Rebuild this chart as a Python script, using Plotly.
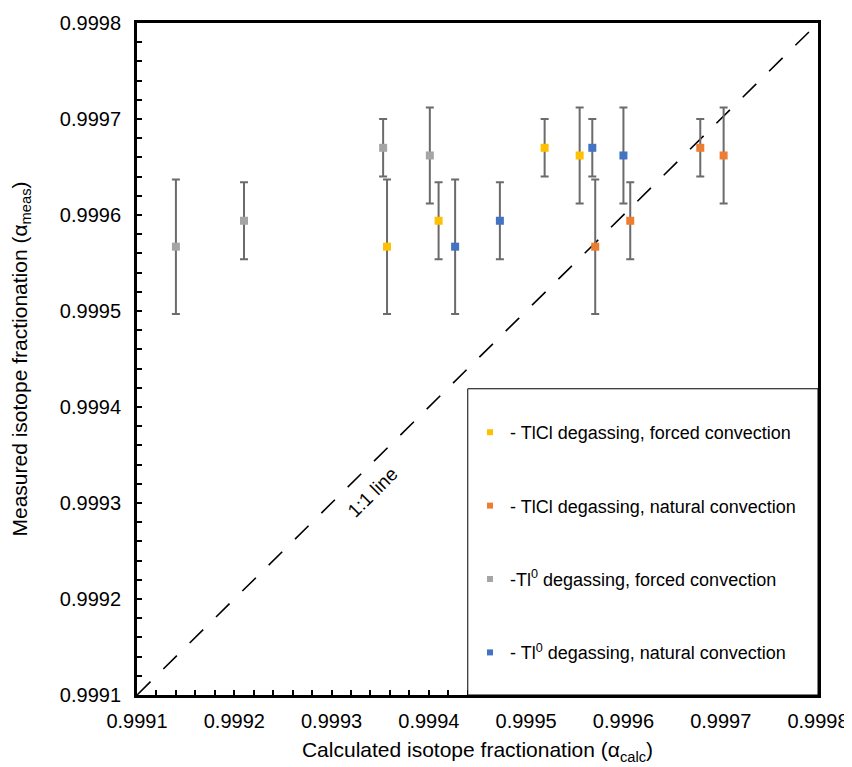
import plotly.graph_objects as go

# ---- data ----
y_meas = [0.999567, 0.999594, 0.99967, 0.999662]
y_err = [0.00007, 0.00004, 0.00003, 0.00005]

x_tlcl_forced = [0.999357, 0.999410, 0.999519, 0.999555]
x_tlcl_natural = [0.999571, 0.999607, 0.999679, 0.999703]
x_tl0_forced = [0.999140, 0.999210, 0.999353, 0.999401]
x_tl0_natural = [0.999427, 0.999473, 0.999568, 0.999600]

series_names = [
    "- TlCl degassing, forced convection",
    "- TlCl degassing, natural convection",
    "-Tl<sup>0</sup> degassing, forced convection",
    "- Tl<sup>0</sup> degassing, natural convection",
]
# drawing order of the series (back to front)
draw_names = [series_names[2], series_names[0], series_names[3], series_names[1]]
draw_x = [x_tl0_forced, x_tlcl_forced, x_tl0_natural, x_tlcl_natural]
colors = {
    series_names[0]: "#FFC000",
    series_names[1]: "#ED7D31",
    series_names[2]: "#A5A5A5",
    series_names[3]: "#4472C4",
}

axis_min, axis_max = 0.9991, 0.9998
one_to_one = [axis_min, axis_max]
tick_vals = [0.9991, 0.9992, 0.9993, 0.9994, 0.9995, 0.9996, 0.9997, 0.9998]
tick_text = ["0.9991", "0.9992", "0.9993", "0.9994", "0.9995", "0.9996", "0.9997", "0.9998"]

FONT = "Liberation Sans, Arial, Helvetica, sans-serif"

fig = go.Figure()

# 1:1 line
fig.add_trace(go.Scatter(
    x=one_to_one, y=one_to_one, mode="lines",
    line=dict(color="black", width=1.6, dash="19px,18px"),
    showlegend=False, hoverinfo="skip"))

# data series with error bars
for name, xs in zip(draw_names, draw_x):
    fig.add_trace(go.Scatter(
        x=xs, y=y_meas, mode="markers",
        marker=dict(symbol="square", size=8, color=colors[name]),
        error_y=dict(type="data", array=y_err, visible=True,
                     color="#6b6b6b", thickness=2, width=4),
        showlegend=False, name=name))

# legend entries (legend-only traces, small square symbols)
for i, name in enumerate(series_names):
    fig.add_trace(go.Scatter(
        x=[None], y=[None], mode="markers", name=name,
        marker=dict(symbol="square", size=6, color=colors[name]),
        legendgroup=f"g{i}", legendrank=i + 1, showlegend=True))

# page body has an 8px margin; plot area spans 137..818 x 23..695 in the window
PAGE_OFF = 8
W, H = 852 - PAGE_OFF, 767 - PAGE_OFF
ML, MR, MT, MB = 137 - PAGE_OFF, 34, 23 - PAGE_OFF, 72
plot_left, plot_top, plot_w, plot_h = 137, 23, 681, 672

fig.update_layout(
    width=W, height=H,
    margin=dict(l=ML, r=MR, t=MT, b=MB, pad=0),
    paper_bgcolor="white", plot_bgcolor="white",
    font=dict(family=FONT, color="black"),
    showlegend=True,
    legend=dict(
        x=(470 - plot_left) / plot_w, xanchor="left",
        y=1 - (414 - plot_top) / plot_h, yanchor="top",
        bgcolor="rgba(0,0,0,0)", borderwidth=0,
        font=dict(size=18, family=FONT, color="black"),
        tracegroupgap=47, traceorder="grouped",
        itemclick=False, itemdoubleclick=False,
    ),
)

common_axis = dict(
    range=[axis_min, axis_max],
    tickvals=tick_vals, ticktext=tick_text,
    showgrid=False, zeroline=False, automargin=False,
    showline=True, linecolor="black", linewidth=3, mirror=True,
    ticks="inside", ticklen=5, tickwidth=1.5, tickcolor="black",
    minor=dict(dtick=0.00002, ticks="inside", ticklen=5, tickwidth=1.5,
               tickcolor="black", showgrid=False),
    tickfont=dict(size=20, family=FONT, color="black"),
)

fig.update_xaxes(**common_axis, ticklabelstandoff=6,
                 title=dict(text="Calculated isotope fractionation (α<sub>calc</sub>)",
                            font=dict(size=21, family=FONT), standoff=12))
fig.update_yaxes(**common_axis, ticklabelstandoff=9,
                 title=dict(text="Measured isotope fractionation (α<sub>meas</sub>)",
                            font=dict(size=21, family=FONT), standoff=28))

# 1:1 label
fig.add_annotation(x=0.999342, y=0.999311, text="1:1 line", showarrow=False,
                   textangle=-45, font=dict(size=19, family=FONT, color="black"))

# legend box
box_left = 0.99944
box_top = 0.999419
fig.add_shape(type="rect", xref="x", yref="y",
              x0=box_left, x1=axis_max, y0=axis_min, y1=box_top,
              line=dict(color="black", width=1), fillcolor="white", layer="above")

fig.write_html("out.html")
